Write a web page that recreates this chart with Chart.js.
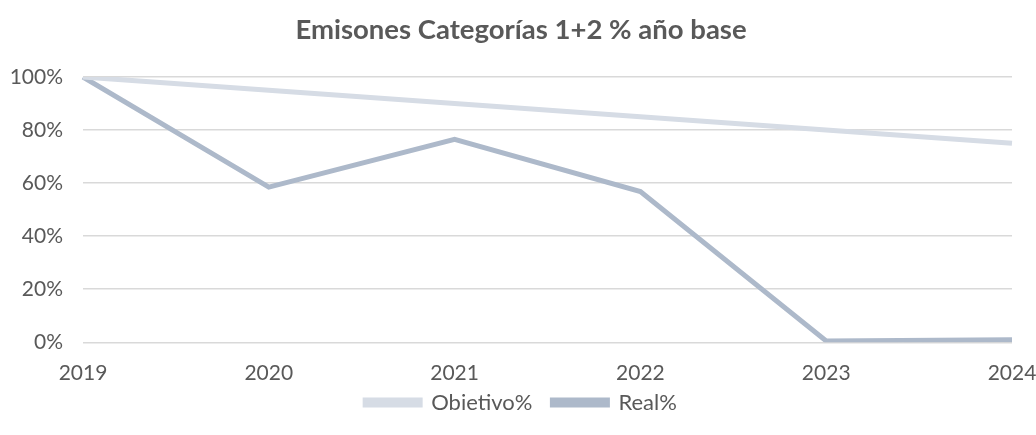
<!DOCTYPE html>
<html>
<head>
<meta charset="utf-8">
<script src="https://cdn.jsdelivr.net/npm/chart.js@4"></script>
<style>
  html, body { margin: 0; padding: 0; background: #ffffff; }
  #wrap { width: 1036px; height: 435px; }
</style>
</head>
<body>
<div id="wrap"><canvas id="myChart"></canvas></div>
<script>
// datos del grafico
const anios = ['2019', '2020', '2021', '2022', '2023', '2024'];
const objetivo = [100, 95, 90, 85, 80, 75];
const real = [100, 58.5, 76.5, 56.8, 0.5, 1];
const titulo = 'Emisones Categorías 1+2 % año base';

const colorObjetivo = '#d6dce5';
const colorReal = '#adb9ca';
const gris = '#595959';

Chart.defaults.font.family = 'Lato, "Open Sans", sans-serif';
Chart.defaults.color = gris;

// sube la leyenda para que quede pegada a las etiquetas del eje x
const subirLeyenda = {
  id: 'subirLeyenda',
  afterLayout(chart) {
    chart.legend.top -= 24;
    chart.legend.bottom -= 24;
  }
};

const ctx = document.getElementById('myChart');

const grafico = new Chart(ctx, {
  type: 'line',
  data: {
    labels: anios,
    datasets: [{
      label: 'Obietivo%',
      data: objetivo,
      borderColor: colorObjetivo,
      backgroundColor: colorObjetivo,
      borderWidth: 5,
      pointRadius: 0,
      tension: 0
    }, {
      label: 'Real%',
      data: real,
      borderColor: colorReal,
      backgroundColor: colorReal,
      borderWidth: 5,
      pointRadius: 0,
      tension: 0
    }]
  },
  options: {
    responsive: true,
    maintainAspectRatio: false,
    animation: false,
    layout: { padding: { top: 14, right: 0, bottom: 0, left: 6 } },
    plugins: {
      title: {
        display: true,
        text: titulo,
        color: gris,
        font: { size: 27.5, weight: 'bold' },
        padding: { top: 0, bottom: 30 }
      },
      legend: {
        position: 'bottom',
        maxHeight: 39.5,
        labels: {
          boxWidth: 55,
          boxHeight: 5,
          color: gris,
          font: { size: 22 },
          padding: 20
        }
      },
      tooltip: { enabled: false }
    },
    scales: {
      x: {
        offset: false,
        grid: { display: false },
        border: { display: false },
        // el 2024 queda en el borde derecho del area, como en el original
        afterFit: (scale) => { scale.paddingRight = 24; },
        ticks: { color: gris, font: { size: 21 }, maxRotation: 0, padding: 10 }
      },
      y: {
        min: 0,
        max: 100,
        grid: { color: '#d9d9d9', lineWidth: 1.5, drawTicks: false },
        border: { display: false },
        afterFit: (scale) => { scale.width = 77; },
        ticks: {
          stepSize: 20,
          color: gris,
          font: { size: 21 },
          padding: 20,
          callback: (v) => v + '%'
        }
      }
    }
  },
  plugins: [subirLeyenda]
});
</script>
</body>
</html>
